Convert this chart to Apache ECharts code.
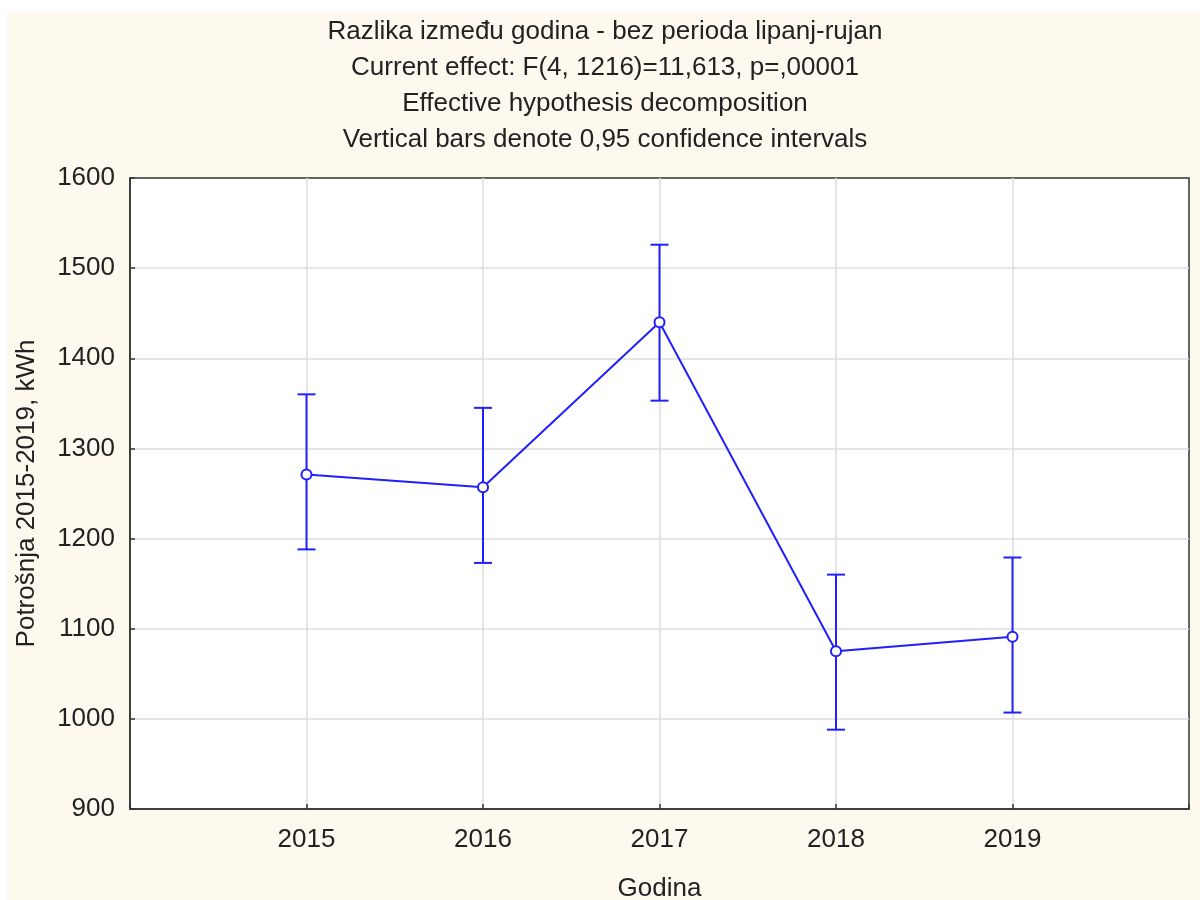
<!DOCTYPE html>
<html>
<head>
<meta charset="utf-8">
<script src="https://cdn.jsdelivr.net/npm/echarts@6/dist/echarts.min.js"></script>
<style>
  html, body { margin: 0; padding: 0; background: #fff; }
  #chart { position: absolute; left: 7px; top: 12px; width: 1193px; height: 888px; }
</style>
</head>
<body>
<div id="chart"></div>
<script>
// podaci
var years = [2015, 2016, 2017, 2018, 2019];
var means = [1271, 1257, 1440, 1075, 1091];
var upper = [1360, 1345, 1526, 1160, 1179];
var lower = [1188, 1173, 1353, 988, 1007];
var yTicks = [900, 1000, 1100, 1200, 1300, 1400, 1500, 1600];

var blue = '#2020ff';
var font = 'Liberation Sans, Arial, sans-serif';
var fs = 26;

var chart = echarts.init(document.getElementById('chart'));

var lineData = years.map(function (y, i) { return [y, means[i]]; });
var barData = years.map(function (y, i) { return [y, lower[i], upper[i]]; });

var option = {
    backgroundColor: '#fdf9ef',
    animation: false,
    title: {
        text: 'Razlika između godina - bez perioda lipanj-rujan\nCurrent effect: F(4, 1216)=11,613, p=,00001\nEffective hypothesis decomposition\nVertical bars denote 0,95 confidence intervals',
        left: 598,
        top: 2,
        textAlign: 'center',
        padding: 0,
        textStyle: {
            fontFamily: font,
            fontSize: fs,
            fontWeight: 'normal',
            color: '#222',
            lineHeight: 36
        }
    },
    grid: {
        left: 123,
        right: 11,
        top: 166,
        bottom: 91,
        outerBoundsMode: 'none',
        containLabel: false,
        show: true,
        backgroundColor: '#fff',
        borderColor: '#333',
        borderWidth: 1.5
    },
    xAxis: {
        type: 'value',
        min: 2014,
        max: 2020,
        interval: 1,
        name: 'Godina',
        nameLocation: 'middle',
        nameGap: 67,
        nameTextStyle: { fontFamily: font, fontSize: fs, color: '#222' },
        axisLine: { show: true, lineStyle: { color: '#333', width: 1.5 } },
        axisTick: { show: true, inside: true, length: 5, lineStyle: { color: '#333', width: 1.5 } },
        axisLabel: {
            fontFamily: font, fontSize: fs, color: '#222', margin: 18,
            formatter: function (v) { return years.indexOf(v) >= 0 ? String(v) : ''; }
        },
        splitLine: { show: true, showMinLine: false, showMaxLine: false, lineStyle: { color: '#dcdcdc', width: 1.5 } }
    },
    yAxis: {
        type: 'value',
        min: yTicks[0],
        max: yTicks[yTicks.length - 1],
        interval: 100,
        name: 'Potrošnja 2015-2019, kWh',
        nameLocation: 'middle',
        nameGap: 90,
        nameTextStyle: { fontFamily: font, fontSize: fs, color: '#222' },
        axisLine: { show: true, lineStyle: { color: '#333', width: 1.5 } },
        axisTick: { show: true, inside: true, length: 5, lineStyle: { color: '#333', width: 1.5 } },
        axisLabel: {
            fontFamily: font, fontSize: fs, color: '#222', margin: 15,
            formatter: function (v) { return String(v); }
        },
        splitLine: { show: true, showMinLine: false, showMaxLine: false, lineStyle: { color: '#dcdcdc', width: 1.5 } }
    },
    series: [
        {
            name: 'CI',
            type: 'custom',
            data: barData,
            z: 3,
            renderItem: function (params, api) {
                var x = api.value(0);
                var lo = api.coord([x, api.value(1)]);
                var hi = api.coord([x, api.value(2)]);
                var w = 9;
                var style = { stroke: blue, lineWidth: 2 };
                return {
                    type: 'group',
                    children: [
                        { type: 'line', shape: { x1: hi[0], y1: hi[1], x2: lo[0], y2: lo[1] }, style: style },
                        { type: 'line', shape: { x1: hi[0] - w, y1: hi[1], x2: hi[0] + w, y2: hi[1] }, style: style },
                        { type: 'line', shape: { x1: lo[0] - w, y1: lo[1], x2: lo[0] + w, y2: lo[1] }, style: style }
                    ]
                };
            }
        },
        {
            name: 'Potrošnja',
            type: 'line',
            data: lineData,
            z: 4,
            symbol: 'emptyCircle',
            symbolSize: 10,
            lineStyle: { color: blue, width: 2 },
            itemStyle: { color: blue, borderColor: blue, borderWidth: 2.5 }
        }
    ]
};

chart.setOption(option);
</script>
</body>
</html>
